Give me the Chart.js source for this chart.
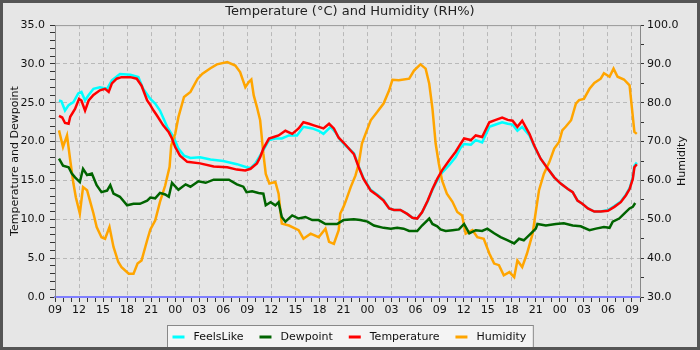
<!DOCTYPE html>
<html>
<head>
<meta charset="utf-8">
<script src="https://cdn.jsdelivr.net/npm/chart.js@4/dist/chart.umd.min.js"></script>
<style>
  html, body { margin: 0; padding: 0; background: #e6e6e6; }
  canvas { display: block; }
</style>
</head>
<body>
<canvas id="cv" width="700" height="350"></canvas>
<script>
/***** 데이터 (x = hours since 09:00 on day one) *****/
const START_HOUR = 9;
const X_MAX = 73;

const feelsLike = [
  [0.5,25.3],[0.8,25.2],[1.25,24.0],[1.7,24.7],[2.3,25.1],[2.9,26.2],[3.3,26.4],[3.75,25.3],
  [4.2,26.0],[4.8,26.8],[5.6,27.0],[6.5,26.8],[7.1,27.9],[8.1,28.7],[9.4,28.6],[10.4,28.3],
  [11.0,26.8],[11.9,25.5],[12.5,24.9],[13.1,24.0],[14.0,21.9],[14.8,20.6],[15.4,19.1],[16.1,18.2],
  [16.9,17.9],[18.1,18.0],[19.4,17.7],[21.0,17.5],[22.7,17.1],[23.9,16.7],[24.4,16.6],[25.0,17.2],
  [26.0,18.9],[26.7,20.2],[27.5,20.4],[28.3,20.4],[29.2,20.8],[30.2,20.8],[31.0,21.9],[32.1,21.7],
  [32.9,21.4],[33.5,21.0],[34.4,21.9],[35.0,21.2],[35.6,20.2],[36.25,19.5],[37.3,18.5],[37.9,16.8],
  [38.5,15.3],[39.4,13.8],[40.2,13.2],[41.0,12.5],[41.7,11.4],[42.3,11.2],[43.1,11.2],[43.95,10.7],
  [44.6,10.2],[45.2,10.1],[45.8,10.9],[46.5,12.3],[47.1,13.8],[47.7,15.0],[48.3,16.0],[49.2,17.0],
  [50.0,18.0],[50.6,19.2],[51.05,19.7],[51.9,19.6],[52.5,20.2],[53.3,19.9],[54.2,21.9],[55.0,22.2],
  [55.8,22.5],[56.5,22.3],[57.1,22.2],[57.7,21.4],[58.3,21.9],[59.2,20.8],[59.8,19.4],[60.6,17.8],
  [61.5,16.5],[62.3,15.4],[63.1,14.6],[64.0,13.9],[64.6,13.5],[65.2,12.4],[65.8,12.0],[66.5,11.4],
  [67.3,11.0],[68.1,11.0],[69.0,11.2],[69.8,11.7],[70.6,12.3],[71.25,13.2],[71.7,14.0],[72.1,15.4],
  [72.3,16.9],[72.6,17.3]
];

const dewpoint = [
  [0.5,17.8],[1.0,16.9],[1.7,16.7],[2.1,15.9],[2.5,15.4],[3.1,14.8],[3.5,16.5],[4.0,15.7],
  [4.6,15.9],[5.2,14.4],[5.8,13.5],[6.5,13.7],[6.9,14.4],[7.3,13.3],[8.1,12.9],[9.0,11.8],
  [9.8,12.0],[10.6,12.0],[11.5,12.4],[11.9,12.8],[12.5,12.7],[13.1,13.4],[13.75,13.2],[14.2,12.9],
  [14.6,14.7],[15.4,13.8],[16.3,14.5],[16.9,14.2],[17.9,14.9],[18.8,14.7],[19.8,15.1],[21.7,15.1],
  [22.7,14.5],[23.5,14.2],[23.9,13.5],[24.6,13.6],[25.4,13.4],[26.0,13.3],[26.3,11.8],[26.9,12.2],
  [27.5,11.8],[27.9,12.2],[28.3,10.3],[28.75,9.7],[29.6,10.5],[30.4,10.1],[31.25,10.3],[32.1,9.9],
  [32.9,9.9],[33.75,9.4],[34.6,9.4],[35.2,9.4],[36.0,9.9],[37.3,10.0],[38.1,9.9],[39.0,9.7],
  [39.8,9.2],[41.0,8.9],[41.9,8.8],[42.7,8.9],[43.5,8.8],[44.2,8.5],[45.2,8.5],[45.8,9.2],
  [46.7,10.1],[47.1,9.4],[47.7,9.1],[48.1,8.7],[48.75,8.5],[49.6,8.6],[50.4,8.7],[51.05,9.4],
  [51.7,8.2],[52.5,8.6],[53.3,8.5],[53.95,8.8],[54.8,8.2],[55.6,7.7],[56.5,7.3],[57.3,6.9],
  [57.9,7.5],[58.5,7.3],[59.4,8.2],[60.0,8.8],[60.2,9.4],[61.25,9.2],[62.5,9.4],[63.5,9.5],
  [64.6,9.2],[65.6,9.1],[66.7,8.6],[67.5,8.8],[68.5,9.0],[69.2,8.9],[69.6,9.7],[70.4,10.1],
  [71.0,10.7],[71.7,11.4],[72.1,11.6],[72.4,12.1]
];

const temperature = [
  [0.5,23.3],[0.9,23.1],[1.25,22.4],[1.7,22.3],[1.9,23.2],[2.5,24.2],[3.0,25.5],[3.3,25.3],
  [3.75,24.0],[4.2,25.3],[4.8,26.0],[5.6,26.6],[6.25,26.8],[6.7,26.4],[7.1,27.5],[7.7,28.1],
  [8.3,28.3],[9.4,28.3],[10.2,28.1],[10.8,27.2],[11.5,25.3],[11.9,24.7],[12.3,24.0],[12.7,23.4],
  [13.5,22.1],[14.2,21.2],[14.6,20.4],[15.0,19.3],[15.6,18.2],[16.5,17.4],[18.1,17.2],[19.8,16.8],
  [21.5,16.7],[22.7,16.4],[23.75,16.3],[24.4,16.5],[25.2,17.2],[25.6,18.0],[26.0,19.1],[26.7,20.4],
  [27.3,20.6],[27.9,20.8],[28.75,21.4],[29.6,21.0],[30.4,21.7],[31.0,22.5],[31.7,22.3],[32.3,22.1],
  [32.9,21.9],[33.5,21.7],[34.2,22.3],[34.8,21.7],[35.4,20.5],[36.25,19.6],[37.3,18.4],[37.9,16.7],
  [38.5,15.2],[39.4,13.7],[40.2,13.1],[41.0,12.4],[41.7,11.4],[42.3,11.2],[43.1,11.2],[43.95,10.7],
  [44.6,10.2],[45.2,10.1],[45.8,10.9],[46.5,12.4],[47.1,13.9],[47.7,15.2],[48.3,16.3],[49.2,17.6],
  [50.0,18.7],[50.6,19.7],[51.05,20.4],[51.9,20.2],[52.5,20.8],[53.3,20.6],[54.2,22.5],[55.0,22.8],
  [55.8,23.1],[56.5,22.8],[57.1,22.7],[57.7,21.9],[58.3,22.7],[59.2,21.0],[59.8,19.5],[60.6,17.8],
  [61.5,16.5],[62.3,15.4],[63.1,14.6],[64.0,13.9],[64.6,13.5],[65.2,12.4],[65.8,12.0],[66.5,11.4],
  [67.3,11.0],[68.1,11.0],[69.0,11.1],[69.8,11.6],[70.6,12.2],[71.25,13.1],[71.7,13.9],[72.1,15.2],
  [72.3,16.7],[72.6,17.1]
];

const humidity = [
  [0.5,72.9],[1.0,68.6],[1.5,71.6],[1.9,65.2],[2.3,59.2],[2.6,55.7],[3.1,51.5],[3.5,58.3],
  [4.0,57.5],[4.4,54.5],[4.8,51.5],[5.2,48.0],[5.8,45.4],[6.25,45.0],[6.8,48.0],[7.3,42.9],
  [7.9,39.0],[8.3,37.7],[9.2,36.0],[9.8,36.0],[10.3,38.6],[10.8,39.4],[11.5,44.6],[11.9,47.4],
  [12.5,49.7],[13.1,54.5],[13.75,58.7],[14.3,63.5],[14.5,69.0],[15.0,72.0],[15.4,76.3],[16.1,81.5],
  [16.9,82.8],[17.8,86.2],[18.4,87.5],[19.4,88.9],[20.2,89.9],[21.5,90.5],[22.5,89.6],[23.1,87.9],
  [23.75,84.0],[24.2,85.4],[24.5,86.0],[24.8,81.9],[25.2,78.9],[25.6,75.5],[26.0,66.9],[26.3,61.7],
  [26.75,59.2],[27.5,59.6],[27.9,56.6],[28.3,48.9],[29.2,48.4],[30.4,47.2],[31.0,45.0],[31.9,46.3],
  [32.9,45.4],[33.75,47.6],[34.2,44.2],[34.8,43.7],[35.4,47.2],[35.6,51.5],[36.0,53.2],[36.25,54.5],
  [36.9,58.3],[37.5,61.3],[37.9,64.3],[38.3,69.5],[38.75,72.0],[39.4,75.5],[40.2,77.6],[41.0,79.8],
  [41.7,83.2],[42.1,85.9],[42.9,85.8],[44.2,86.2],[44.8,88.3],[45.6,89.9],[46.25,88.8],[46.7,84.9],
  [47.1,78.5],[47.5,69.5],[47.9,64.3],[48.3,60.0],[48.9,56.6],[49.6,54.5],[50.2,51.9],[50.8,51.0],
  [51.25,46.3],[52.1,47.2],[52.7,45.4],[53.5,45.0],[54.2,41.2],[54.8,38.6],[55.4,38.2],[56.0,35.6],
  [56.7,36.4],[57.3,35.1],[57.7,39.4],[58.3,37.7],[58.9,41.2],[59.6,46.3],[60.0,52.0],[60.4,57.5],
  [61.0,61.7],[61.7,64.8],[62.3,68.2],[62.9,69.9],[63.3,72.9],[63.75,73.9],[64.4,75.5],[65.0,79.8],
  [65.4,80.7],[66.0,81.0],[66.7,83.6],[67.3,85.1],[68.1,86.2],[68.5,87.6],[69.2,86.7],[69.7,88.8],
  [70.2,86.7],[71.0,86.0],[71.7,84.5],[72.0,78.5],[72.3,72.5],[72.6,72.0]
];

/***** 스타일 *****/
const BG = "#e6e6e6";
const GRID = "#b9b9b9";
const TICK = "#333333";
const FONT = "'DejaVu Sans', sans-serif";

Chart.defaults.font.family = FONT;
Chart.defaults.font.size = 11;
Chart.defaults.color = "#111";

const toPts = (arr) => arr.map(([x, y]) => ({ x, y }));

// 배경 + 프레임 + 범례 박스 + 오른쪽 축 제목
const decor = {
  id: "decor",
  beforeDraw(chart){
    const { ctx, width, height } = chart;
    ctx.save();
    ctx.fillStyle = BG;
    ctx.fillRect(0, 0, width, height);
    ctx.restore();
  },
  afterDraw(chart){
    const { ctx, chartArea: ca, width, height } = chart;
    ctx.save();
    // top border of plot
    ctx.strokeStyle = "#999";
    ctx.lineWidth = 1;
    ctx.beginPath();
    ctx.moveTo(ca.left, ca.top + 0.5);
    ctx.lineTo(ca.right, ca.top + 0.5);
    ctx.stroke();

    // right axis title
    ctx.fillStyle = "#111";
    ctx.font = "11px " + FONT;
    ctx.textAlign = "center";
    ctx.textBaseline = "middle";
    ctx.translate(682, (ca.top + ca.bottom) / 2);
    ctx.rotate(-Math.PI / 2);
    ctx.fillText("Humidity", 0, 0);
    ctx.restore();

    // legend
    ctx.save();
    ctx.font = "11px " + FONT;
    const sets = chart.data.datasets;
    const mark = 12, gapText = 9, gapItem = 16, padL = 5, padR = 7;
    const widths = sets.map(d => ctx.measureText(d.label).width);
    let total = padL + padR;
    widths.forEach((w, i) => { total += mark + gapText + w + (i < widths.length - 1 ? gapItem : 0); });
    const bx = Math.round(width / 2 - total / 2) + 0.5;
    const by = 325.5;
    ctx.fillStyle = "#f4f4f4";
    ctx.fillRect(bx, by, total, height - by);
    ctx.strokeStyle = "#888";
    ctx.lineWidth = 1;
    ctx.strokeRect(bx, by, total, height - by + 5);
    let x = bx + padL;
    const cy = 337;
    sets.forEach((d, i) => {
      ctx.strokeStyle = d.borderColor;
      ctx.lineWidth = 3;
      ctx.beginPath();
      ctx.moveTo(x, cy);
      ctx.lineTo(x + mark, cy);
      ctx.stroke();
      x += mark + gapText;
      ctx.fillStyle = "#111";
      ctx.textBaseline = "middle";
      ctx.fillText(d.label, x, cy);
      x += widths[i] + gapItem;
    });
    ctx.restore();

    // outer frame
    ctx.save();
    ctx.strokeStyle = "#555";
    ctx.lineWidth = 3;
    ctx.strokeRect(1.5, 1.5, width - 3, height - 3);
    ctx.restore();
  }
};

function hourLabel(v){
  const h = Math.round(v);
  if (h % 3 !== 0) return "";
  return String((START_HOUR + h) % 24).padStart(2, "0");
}

function init(){
  const ctx = document.getElementById("cv").getContext("2d");
  new Chart(ctx, {
    type: "line",
    data: {
      datasets: [
        { label: "FeelsLike", data: toPts(feelsLike), borderColor: "#00ffff", yAxisID: "y", order: 3 },
        { label: "Dewpoint", data: toPts(dewpoint), borderColor: "#006400", yAxisID: "y", order: 1 },
        { label: "Temperature", data: toPts(temperature), borderColor: "#ff0000", yAxisID: "y", order: 0 },
        { label: "Humidity", data: toPts(humidity), borderColor: "#ffa500", yAxisID: "y2", order: 2 }
      ]
    },
    options: {
      responsive: false,
      devicePixelRatio: 1,
      animation: false,
      layout: { padding: { top: 0, left: 0, right: 0, bottom: 0 } },
      elements: {
        point: { radius: 0 },
        line: { borderWidth: 2.5, tension: 0, fill: false }
      },
      plugins: {
        legend: { display: false },
        tooltip: { enabled: false },
        title: {
          display: true,
          text: "Temperature (°C) and Humidity (RH%)",
          color: "#222",
          font: { size: 13, weight: "normal" },
          padding: { top: 3.5, bottom: 6 }
        }
      },
      scales: {
        x: {
          type: "linear",
          min: 0, max: X_MAX,
          afterFit: (s) => { s.height = 53; },
          ticks: { stepSize: 1, autoSkip: false, maxRotation: 0, padding: 2, color: "#111", callback: hourLabel },
          grid: {
            color: (c) => (c.tick && c.tick.value % 3 === 0 && c.tick.value > 0 ? GRID : "rgba(0,0,0,0)"),
            tickColor: TICK, tickLength: 5
          },
          border: { color: "#7f7fff", width: 2, dash: [4, 3] }
        },
        y: {
          position: "left",
          min: 0, max: 35,
          afterFit: (s) => { s.width = 55; },
          ticks: {
            stepSize: 1, autoSkip: false, padding: 5, color: "#111",
            callback: (v) => (v % 5 === 0 ? v.toFixed(1) : "")
          },
          grid: {
            color: (c) => (c.tick && c.tick.value % 5 === 0 && c.tick.value > 0 && c.tick.value < 35 ? GRID : "rgba(0,0,0,0)"),
            tickColor: TICK, tickLength: 5
          },
          border: { color: "#888", width: 1, dash: [4, 3] },
          title: { display: true, text: "Temperature and Dewpoint", color: "#111", font: { size: 11 }, padding: { top: 9 } }
        },
        y2: {
          position: "right",
          min: 30, max: 100,
          afterFit: (s) => { s.width = 60; },
          ticks: {
            stepSize: 5, autoSkip: false, padding: 3, color: "#111",
            callback: (v) => (v % 10 === 0 ? v.toFixed(1) : "")
          },
          grid: { drawOnChartArea: false, tickColor: TICK, tickLength: 4 },
          border: { color: "#888", width: 1 }
        }
      }
    },
    plugins: [decor]
  });
}
document.addEventListener("DOMContentLoaded", init);
</script>
</body>
</html>
